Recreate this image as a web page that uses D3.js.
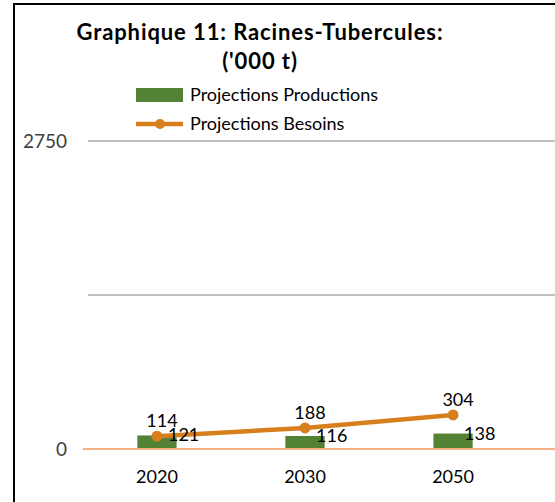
<!DOCTYPE html>
<html>
<head>
<meta charset="utf-8">
<script src="https://cdn.jsdelivr.net/npm/d3@7"></script>
<style>
  body { margin: 0; background: #fff; }
  svg { display: block; font-family: Lato, "Noto Sans", sans-serif; }
</style>
</head>
<body>
<svg id="chart" width="555" height="502"></svg>
<script>
// données du graphique
const categories = ['2020', '2030', '2050'];
const productions = [121, 116, 138]; // barres vertes
const besoins = [114, 188, 304];     // ligne orange
const yTicks = [0, 1375, 2750];
const yTickLabels = ['0', '', '2750'];

const width = 555, height = 502;
const margin = { top: 141, right: 28, bottom: 53, left: 83 };
const font = 'Lato, "Noto Sans", sans-serif';

const svg = d3.select('#chart');

// cadre du graphique
svg.append('rect')
  .attr('x', 14).attr('y', 4)
  .attr('width', 600).attr('height', 600)
  .attr('fill', 'none')
  .attr('stroke', '#000')
  .attr('stroke-width', 2);

const x = d3.scaleBand()
  .domain(categories)
  .range([margin.left, width - margin.right])
  .paddingInner(0.735)
  .paddingOuter(0.367);

const y = d3.scaleLinear()
  .domain([0, 2750])
  .range([height - margin.bottom, margin.top]);

// grille horizontale
svg.append('g')
  .selectAll('line')
  .data(yTicks.slice(1))
  .join('line')
  .attr('x1', 88).attr('x2', width)
  .attr('y1', d => y(d)).attr('y2', d => y(d))
  .attr('stroke', '#c0c0c0')
  .attr('stroke-width', 2);

// axe Y (étiquettes seulement)
const yAxis = d3.axisLeft(y).tickValues(yTicks).tickFormat((d, i) => yTickLabels[i]).tickSize(0);
svg.append('g')
  .attr('transform', 'translate(67,0)')
  .call(yAxis)
  .attr('font-family', font)
  .call(g => g.select('.domain').remove())
  .selectAll('text')
  .attr('font-size', '19px')
  .attr('fill', '#404040')
  .attr('dy', '0.35em')
  .attr('x', 0);

// barres
svg.append('g')
  .selectAll('rect')
  .data(productions)
  .join('rect')
  .attr('x', (d, i) => x(categories[i]))
  .attr('y', d => y(d))
  .attr('width', x.bandwidth())
  .attr('height', d => y(0) - y(d))
  .attr('fill', '#548235');

// ligne zéro
svg.append('line')
  .attr('x1', margin.left).attr('x2', width)
  .attr('y1', y(0)).attr('y2', y(0))
  .attr('stroke', '#f4b183')
  .attr('stroke-width', 2);

// axe X
const xAxis = d3.axisBottom(x).tickSize(0);
svg.append('g')
  .attr('transform', `translate(0,${y(0)})`)
  .call(xAxis)
  .attr('font-family', font)
  .call(g => g.select('.domain').remove())
  .selectAll('text')
  .attr('font-size', '18px')
  .attr('fill', '#000')
  .attr('dy', '1.72em');

// ligne des besoins
const cx = (d, i) => x(categories[i]) + x.bandwidth() / 2;
const line = d3.line().x(cx).y(d => y(d));

svg.append('path')
  .datum(besoins)
  .attr('fill', 'none')
  .attr('stroke', '#d67f1c')
  .attr('stroke-width', 4.5)
  .attr('d', line);

svg.append('g')
  .selectAll('circle')
  .data(besoins)
  .join('circle')
  .attr('cx', cx)
  .attr('cy', d => y(d))
  .attr('r', 5.5)
  .attr('fill', '#d67f1c');

// étiquettes de données
svg.append('g')
  .selectAll('text')
  .data(productions)
  .join('text')
  .attr('x', (d, i) => x(categories[i]) + x.bandwidth() / 2 + 11)
  .attr('y', d => y(d) + 6)
  .attr('font-size', '18px')
  .text(d => d);

svg.append('g')
  .selectAll('text')
  .data(besoins)
  .join('text')
  .attr('x', (d, i) => cx(d, i) + 5)
  .attr('y', d => y(d) - 9)
  .attr('text-anchor', 'middle')
  .attr('font-size', '18px')
  .text(d => d);

// titre
const title = svg.append('text')
  .attr('text-anchor', 'middle')
  .attr('font-weight', 'bold')
  .attr('font-size', '22px')
  .attr('letter-spacing', '0.9px');
title.append('tspan').attr('x', 260).attr('y', 40).text('Graphique 11: Racines-Tubercules:');
title.append('tspan').attr('x', 260).attr('y', 69).text("('000 t)");

// légende
const legend = svg.append('g');
legend.append('rect')
  .attr('x', 136).attr('y', 88)
  .attr('width', 47).attr('height', 14)
  .attr('fill', '#548235');
legend.append('text')
  .attr('x', 190).attr('y', 101)
  .attr('font-size', '18px')
  .text('Projections Productions');
legend.append('line')
  .attr('x1', 136).attr('x2', 183)
  .attr('y1', 124).attr('y2', 124)
  .attr('stroke', '#d67f1c')
  .attr('stroke-width', 4.5);
legend.append('circle')
  .attr('cx', 160).attr('cy', 124)
  .attr('r', 5)
  .attr('fill', '#d67f1c');
legend.append('text')
  .attr('x', 190).attr('y', 130)
  .attr('font-size', '18px')
  .text('Projections Besoins');
</script>
</body>
</html>
